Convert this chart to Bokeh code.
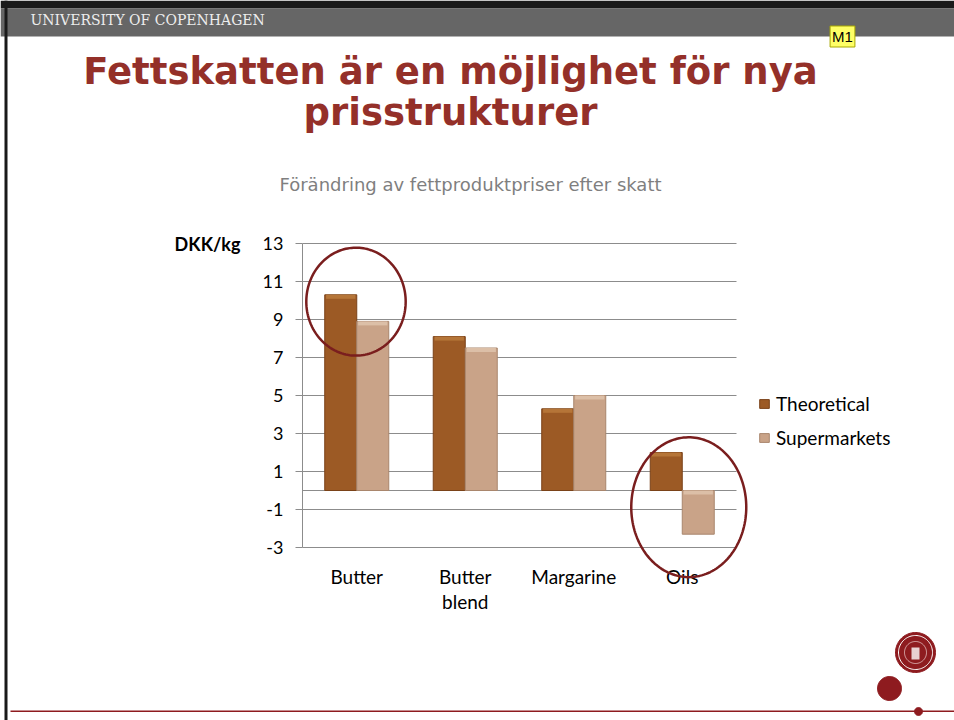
import numpy as np
from bokeh.plotting import figure
from bokeh.models import (Range1d, FixedTicker, Label, Legend, LegendItem,
                          BoxAnnotation, PolyAnnotation, ColumnDataSource)
from bokeh.transform import dodge
from bokeh.embed import file_html
from bokeh.resources import INLINE

# ---------------- data ----------------
categories = ["Butter", "Butter\nblend", "Margarine", "Oils"]
theoretical = [10.3, 8.1, 4.3, 2.0]
supermarkets = [8.9, 7.5, 5.0, -2.3]
series_names = ["Theoretical", "Supermarkets"]
y_ticks = [13, 11, 9, 7, 5, 3, 1, -1, -3]

title_lines = ["Fettskatten är en möjlighet för nya", "prisstrukturer"]
chart_title = "Förändring av fettproduktpriser efter skatt"
unit_label = "DKK/kg"
header_text = "UNIVERSITY OF COPENHAGEN"
comment_tag = "M1"

# ---------------- slide geometry (page pixels) ----------------
W, H = 954, 720
PLOT_LEFT, PLOT_RIGHT, PLOT_TOP, PLOT_BOTTOM = 302, 736, 243, 547
n_cat = len(categories)
y_lo, y_hi = min(y_ticks), max(y_ticks)

# ranges chosen so that the chart's plot area lands on the slide's plot area
px_per_cat = (PLOT_RIGHT - PLOT_LEFT) / n_cat
px_per_unit = (PLOT_BOTTOM - PLOT_TOP) / (y_hi - y_lo)
x_start = -0.5 - PLOT_LEFT / px_per_cat
x_end = n_cat - 0.5 + (W - PLOT_RIGHT) / px_per_cat
y_start = y_lo - (H - PLOT_BOTTOM) / px_per_unit
y_end = y_hi + PLOT_TOP / px_per_unit


def sy(py):
    """page y (from top) -> screen units (from bottom)"""
    return H - py


LABEL_FONT = "Lato"
THEO_FILL, THEO_LINE, THEO_HI = "#9C5A25", "#7A4218", "#B57538"
SUP_FILL, SUP_LINE, SUP_HI = "#C9A388", "#A9866D", "#DCBFA7"
GRID = "#8C8C8C"
RED = "#8E1B1F"
BEVEL = 4 / px_per_unit  # bevel band thickness (style only)

theo_hi = [max(v, 0) for v in theoretical]
sup_hi = [max(v, 0) for v in supermarkets]
src = ColumnDataSource(dict(idx=list(range(n_cat)), theo=theoretical, sup=supermarkets,
                            theo_hi=theo_hi, theo_lo=[v - BEVEL for v in theo_hi],
                            sup_hi=sup_hi, sup_lo=[v - BEVEL for v in sup_hi]))

p = figure(width=W, height=H,
           x_range=Range1d(x_start, x_end), y_range=Range1d(y_start, y_end),
           output_backend="svg", toolbar_location=None,
           min_border_left=0, min_border_right=0, min_border_top=0, min_border_bottom=0)
p.outline_line_color = None
p.background_fill_color = "white"
p.border_fill_color = "white"
p.xgrid.grid_line_color = None
p.ygrid.grid_line_color = None

# gridlines and category axis line, limited to the plot area
p.segment(x0=-0.5, x1=n_cat - 0.5, y0=y_ticks, y1=y_ticks, line_color=GRID, line_width=1)
p.segment(x0=[-0.5], x1=[n_cat - 0.5], y0=[0], y1=[0], line_color=GRID, line_width=1)

r_theo = p.vbar(x=dodge("idx", -0.1475), top="theo", width=0.295, source=src,
                fill_color=THEO_FILL, line_color=THEO_LINE, line_width=1)
r_sup = p.vbar(x=dodge("idx", 0.1475), top="sup", width=0.295, source=src,
               fill_color=SUP_FILL, line_color=SUP_LINE, line_width=1)
# bevel highlight along the upper face of each bar
p.vbar(x=dodge("idx", -0.1475), top="theo_hi", bottom="theo_lo", width=0.27, source=src,
       fill_color=THEO_HI, line_color=None)
p.vbar(x=dodge("idx", 0.1475), top="sup_hi", bottom="sup_lo", width=0.27, source=src,
       fill_color=SUP_HI, line_color=None)

# value axis
p.yaxis.fixed_location = -0.5
p.yaxis.bounds = (y_lo, y_hi)
p.yaxis.ticker = FixedTicker(ticks=y_ticks)
p.yaxis.major_label_overrides = {t: str(t) for t in y_ticks}
p.yaxis.axis_line_color = GRID
p.yaxis.major_tick_line_color = GRID
p.yaxis.major_tick_out = 7
p.yaxis.major_tick_in = 0
p.yaxis.minor_tick_line_color = None
p.yaxis.major_label_standoff = 12
p.yaxis.major_label_text_font = LABEL_FONT
p.yaxis.major_label_text_font_size = "18px"
p.yaxis.major_label_text_color = "black"

# category axis
p.xaxis.fixed_location = y_lo
p.xaxis.ticker = FixedTicker(ticks=list(range(n_cat)))
p.xaxis.major_label_overrides = {i: c for i, c in enumerate(categories)}
p.xaxis.axis_line_color = None
p.xaxis.major_tick_line_color = None
p.xaxis.minor_tick_line_color = None
p.xaxis.major_tick_out = 0
p.xaxis.major_tick_in = 0
p.xaxis.major_label_standoff = 17
p.xaxis.major_label_text_font = LABEL_FONT
p.xaxis.major_label_text_font_size = "19px"
p.xaxis.major_label_text_color = "black"
p.xaxis.major_label_text_line_height = 1.1

# legend
legend = Legend(items=[LegendItem(label=series_names[0], renderers=[r_theo]),
                       LegendItem(label=series_names[1], renderers=[r_sup])],
                location=(758, sy(449)), orientation="vertical",
                padding=0, margin=0, spacing=11, label_height=20,
                glyph_width=12, glyph_height=11, label_standoff=6,
                border_line_color=None, background_fill_alpha=0,
                label_text_font=LABEL_FONT, label_text_font_size="19px",
                label_text_color="black")
p.add_layout(legend)


# highlight ellipses (data units, around Butter and Oils groups)
def ellipse(cx, cy, rx, ry, n=160):
    t = np.linspace(0, 2 * np.pi, n)
    return (cx + rx * np.cos(t)).tolist(), (cy + ry * np.sin(t)).tolist()


for cx, cy, rx, ry in [(-0.007, 9.94, 0.458, 2.84), (3.06, -0.88, 0.53, 3.68)]:
    xs, ys = ellipse(cx, cy, rx, ry)
    p.add_layout(PolyAnnotation(xs=xs, ys=ys, xs_units="data", ys_units="data",
                                fill_alpha=0, line_color="#7A1E1E", line_alpha=1,
                                line_width=2.5))


# ---------------- slide decorations (screen units) ----------------
def box(x0, x1, y0, y1, color, alpha=1.0):
    p.add_layout(BoxAnnotation(left=x0, right=x1, top=sy(y0), bottom=sy(y1),
                               left_units="screen", right_units="screen",
                               top_units="screen", bottom_units="screen",
                               fill_color=color, fill_alpha=alpha, line_color=None))


def disc(cx, cy, r, fill=None, line=None, lw=1, n=90):
    t = np.linspace(0, 2 * np.pi, n)
    xs = (cx + r * np.cos(t)).tolist()
    ys = [sy(v) for v in (cy + r * np.sin(t))]
    p.add_layout(PolyAnnotation(xs=xs, ys=ys, xs_units="screen", ys_units="screen",
                                fill_color=fill, fill_alpha=1 if fill else 0,
                                line_color=line, line_alpha=1, line_width=lw))


box(0, W, 0, 8, "#1A1A1A")           # top border
box(0, W, 8, 36, "#666666")          # header bar
box(4, 7, 0, H, "#1A1A1A")           # left border

p.add_layout(Label(x=30, y=sy(19), x_units="screen", y_units="screen",
                   text=header_text, text_font="DejaVu Serif", text_font_size="14px",
                   text_color="#EDEDED", text_baseline="middle", text_align="left"))
p.add_layout(Label(x=842, y=sy(36), x_units="screen", y_units="screen",
                   text=comment_tag, text_font="Liberation Sans", text_font_size="15px",
                   text_color="black", text_baseline="middle", text_align="center",
                   background_fill_color="#FFFF66", border_line_color="#A8A800",
                   padding=2))

for line, base in zip(title_lines, [71, 112]):
    p.add_layout(Label(x=450, y=sy(base), x_units="screen", y_units="screen",
                       text=line, text_font="DejaVu Sans", text_font_style="bold",
                       text_font_size="37px", text_color="#943029",
                       text_align="center", text_baseline="alphabetic"))

p.add_layout(Label(x=470, y=sy(184), x_units="screen", y_units="screen",
                   text=chart_title, text_font="DejaVu Sans", text_font_size="18px",
                   text_color="#7F7F7F", text_align="center", text_baseline="alphabetic"))

p.add_layout(Label(x=240, y=sy(243), x_units="screen", y_units="screen",
                   text=unit_label, text_font=LABEL_FONT, text_font_style="bold",
                   text_font_size="18px", text_color="black",
                   text_align="right", text_baseline="alphabetic"))

# university logo and footer line
disc(915, 652, 20, fill=RED, line=RED)
disc(915, 652, 17, line="white", lw=1)
disc(915, 652, 11, line="#E8C8C8", lw=0.8)
box(911, 919, 647, 659, "white", 0.8)
disc(889, 688, 12, fill=RED, line=RED)
box(10, W, 710, 711.5, RED)
disc(918, 711, 4, fill=RED, line=RED)

open("out.html", "w").write(file_html(p, INLINE))
